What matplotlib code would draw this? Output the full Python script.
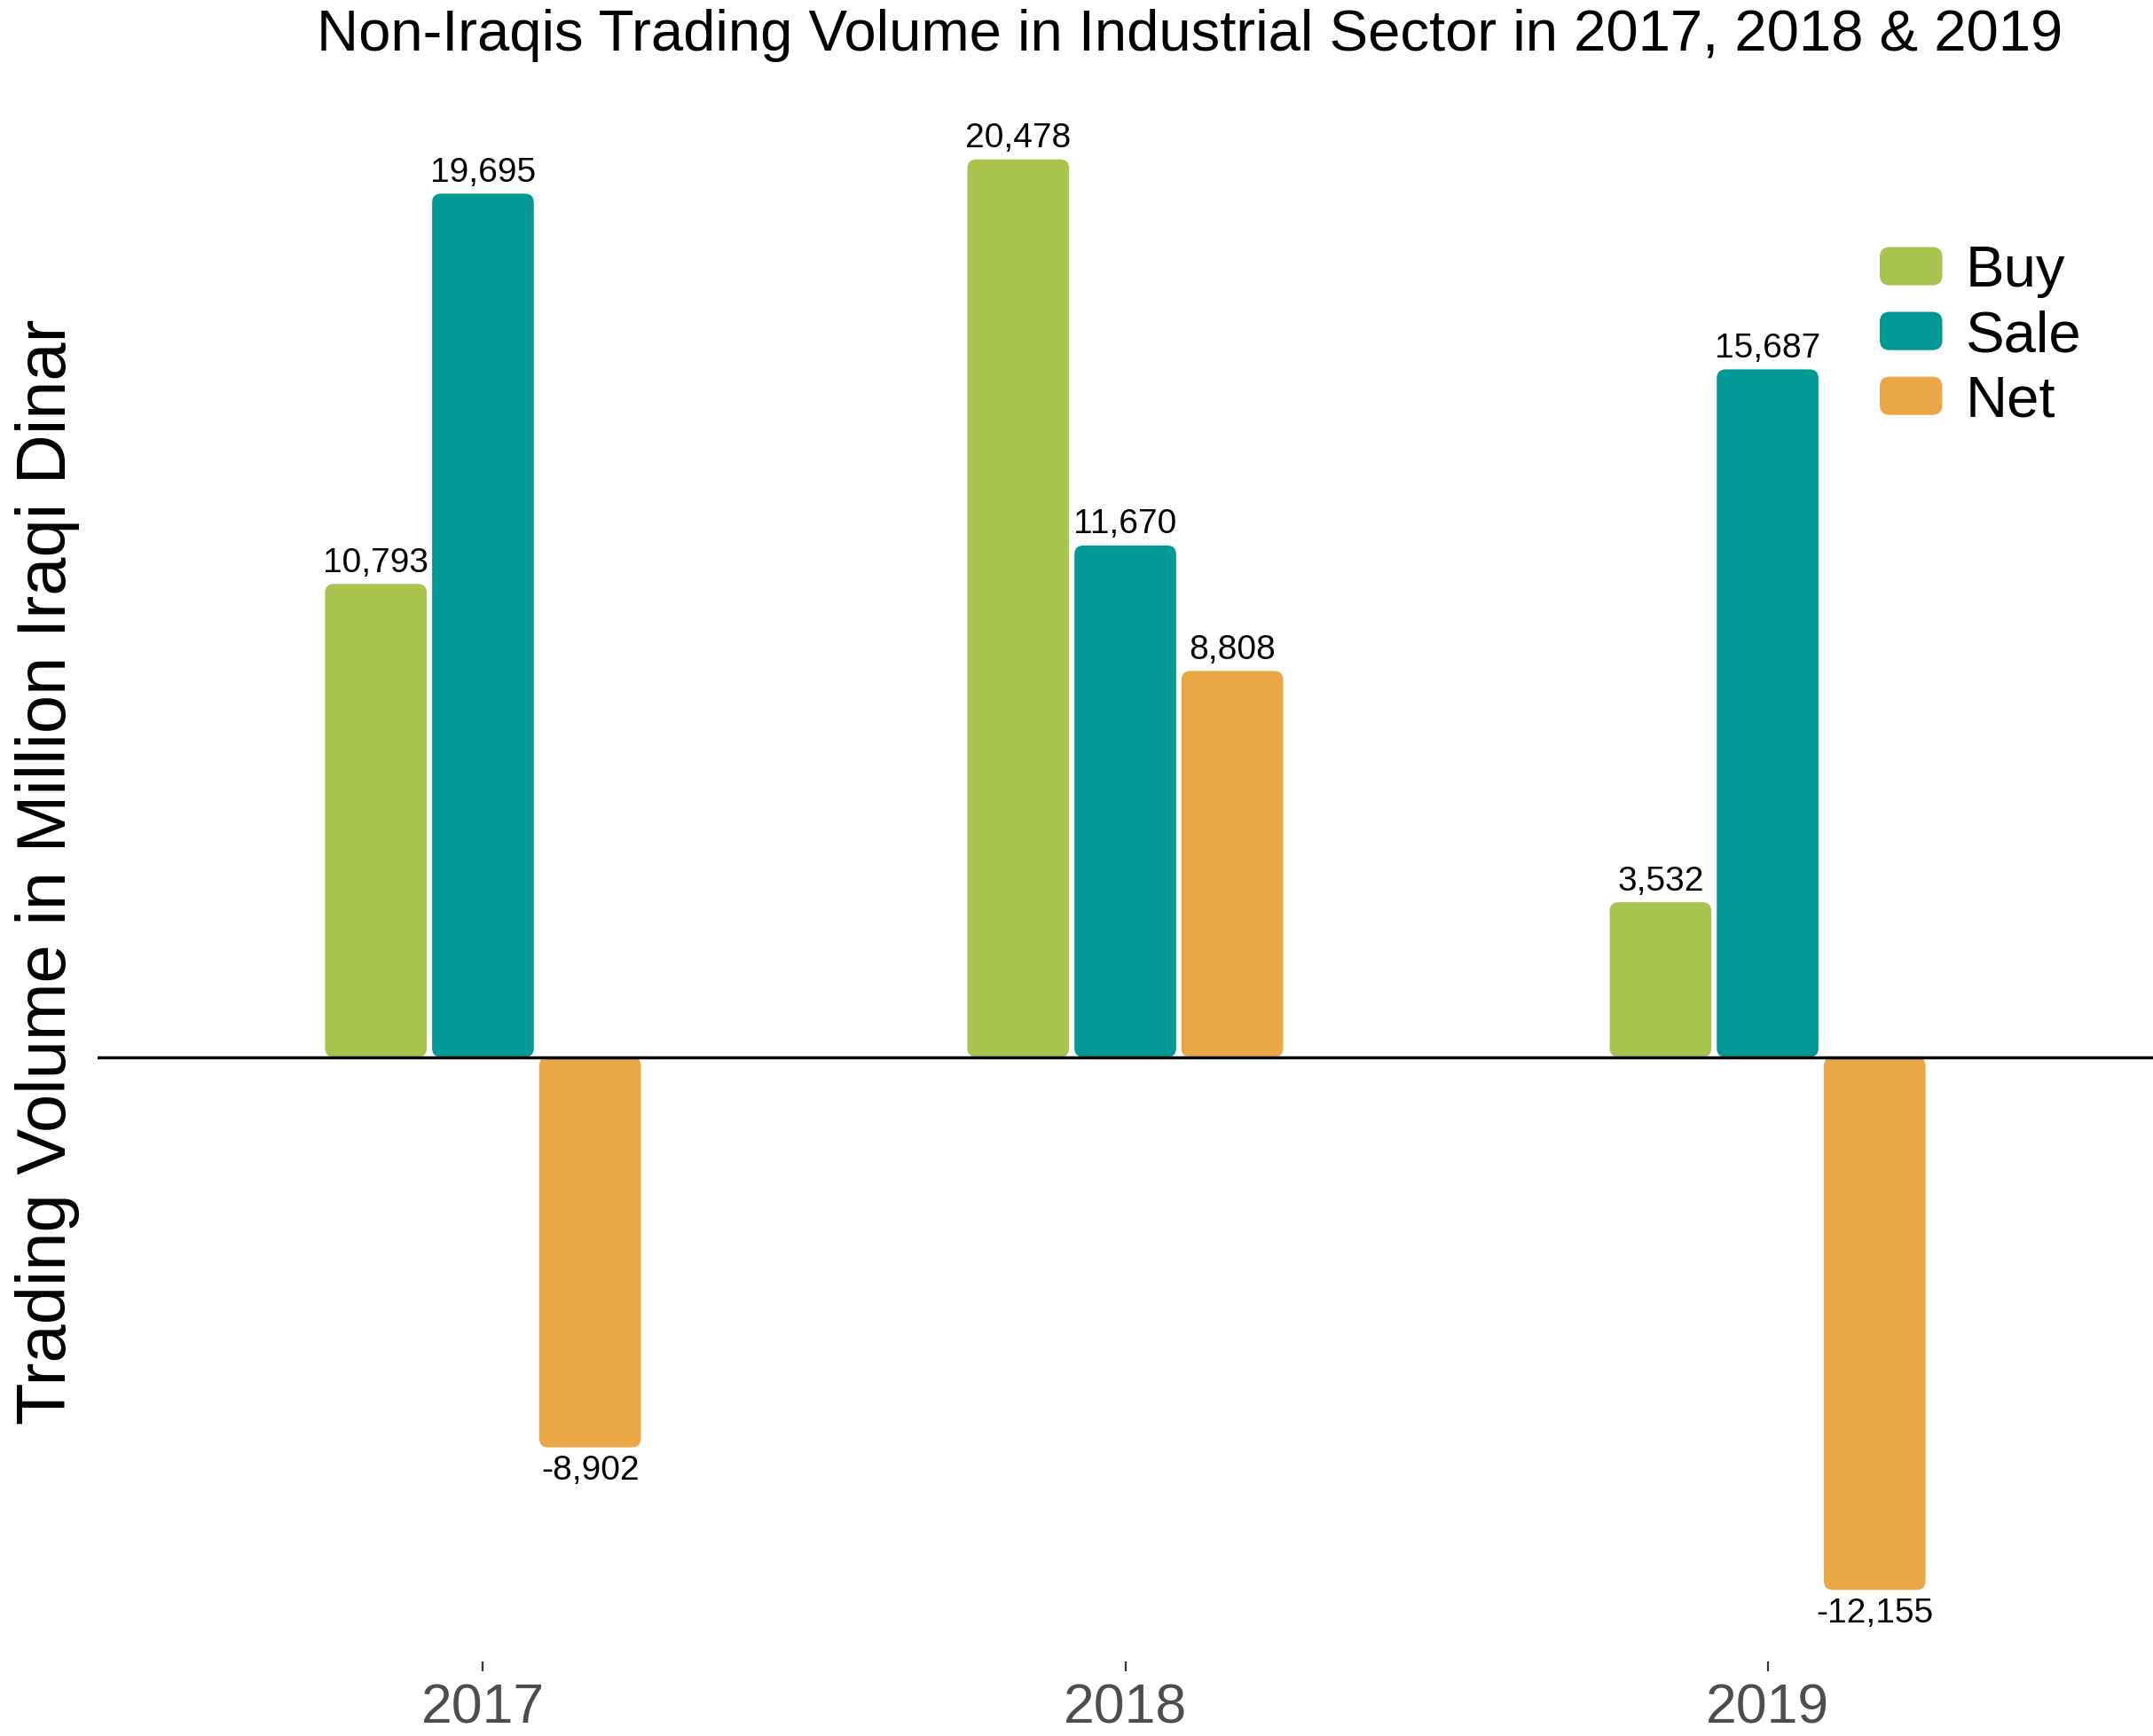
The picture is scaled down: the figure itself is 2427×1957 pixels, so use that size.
import matplotlib
matplotlib.use("Agg")
import matplotlib.pyplot as plt
from matplotlib.patches import FancyBboxPatch
from matplotlib.legend_handler import HandlerPatch
import numpy as np

plt.rcParams['font.family'] = ['Liberation Sans', 'DejaVu Sans']

years = ["2017", "2018", "2019"]
series = ["Buy", "Sale", "Net"]
buy = [10793, 20478, 3532]
sale = [19695, 11670, 15687]
net = [-8902, 8808, -12155]
colors = ["#A8C44E", "#009894", "#E9A845"]

W, H = 2427, 1957
fig = plt.figure(figsize=(W / 100, H / 100), dpi=100)
ax = fig.add_axes([110 / W, 1 - 1873 / H, 1 - 110 / W, (1873 - 99) / H])

x = np.arange(1, len(years) + 1)
slot = 0.5 / 3
bw = slot * 0.95

allvals = buy + sale + net
lo, hi = min(allvals), max(allvals)
pad = 0.05 * (hi - lo)
ax.set_xlim(0.4, 3.6)
ax.set_ylim(lo - pad, hi + pad)

# px per data unit, for rounded corners
px_x = ax.get_position().width * W / 3.2
px_y = ax.get_position().height * H / ((hi + pad) - (lo - pad))
r_px = 10
aspect = (r_px / px_y) / (r_px / px_x)

for i, (vals, c) in enumerate(zip([buy, sale, net], colors)):
    bars = ax.bar(x + (i - 1) * slot, vals, width=bw, color=c, alpha=0)
    for b, v in zip(bars, vals):
        x0, y0 = b.get_x(), b.get_y()
        w, h = b.get_width(), b.get_height()
        if h < 0:
            y0, h = y0 + h, -h
        p = FancyBboxPatch((x0, y0), w, h,
                           boxstyle=f"round,pad=0,rounding_size={r_px / px_x}",
                           mutation_aspect=aspect, fc=c, ec="none", zorder=2)
        ax.add_patch(p)
        cx = x0 + w / 2
        if v >= 0:
            ax.annotate(f"{v:,}", (cx, v), xytext=(0, 4), textcoords="offset points",
                        ha="center", va="bottom", fontsize=28, color="black")
        else:
            ax.annotate(f"{v:,}", (cx, v), xytext=(0, -6), textcoords="offset points",
                        ha="center", va="top", fontsize=28, color="black")

ax.axhline(0, color="black", lw=2.5, zorder=3)

for s in ax.spines.values():
    s.set_visible(False)
ax.set_yticks([])
ax.set_xticks(x)
ax.set_xticklabels(years, fontsize=45, color="#4D4D4D")
ax.tick_params(axis="x", length=8, width=1.6, color="#333333", pad=9)

fig.text(1341 / W, 1 - 57 / H,
         "Non-Iraqis Trading Volume in Industrial Sector in 2017, 2018 & 2019",
         ha="center", va="baseline", fontsize=47)
fig.text(54 / W, 1 - 983 / H, "Trading Volume in Million Iraqi Dinar",
         rotation=90, ha="center", va="center", fontsize=56)


class RoundHandler(HandlerPatch):
    def create_artists(self, legend, orig_handle, xdescent, ydescent,
                       width, height, fontsize, trans):
        p = FancyBboxPatch((-xdescent, -ydescent), width, height,
                           boxstyle="round,pad=0,rounding_size=8",
                           fc=orig_handle.get_facecolor(), ec="none",
                           transform=trans)
        return [p]


handles = [FancyBboxPatch((0, 0), 1, 1, fc=c) for c in colors]
fig.legend(handles, series, loc="upper left",
           bbox_to_anchor=(2119 / W, 1 - 276 / H), frameon=False,
           fontsize=47, borderpad=0, borderaxespad=0,
           handlelength=1.08, handleheight=0.64, handletextpad=0.4,
           labelspacing=0.2,
           handler_map={FancyBboxPatch: RoundHandler()})

fig.savefig("out.png", dpi=100)
